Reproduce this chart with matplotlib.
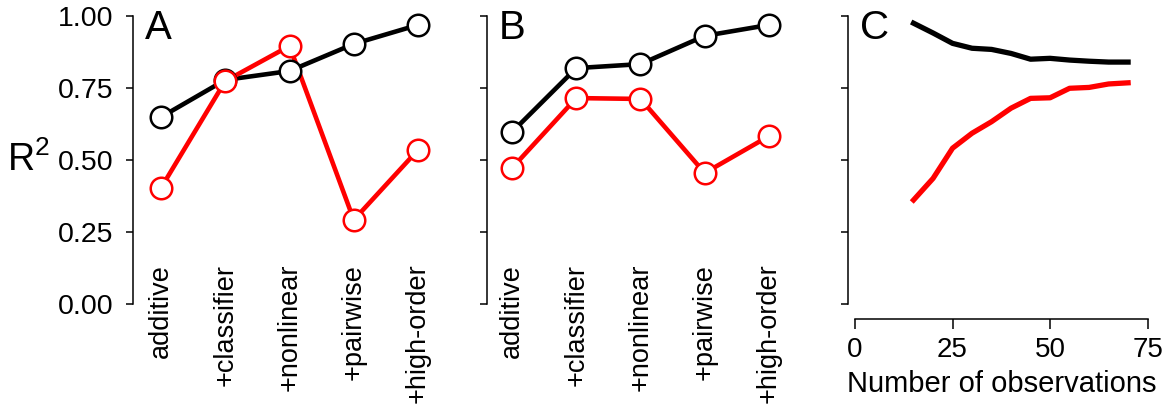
import matplotlib
matplotlib.use("Agg")
import matplotlib.pyplot as plt

plt.rcParams['font.family'] = ['Liberation Sans', 'DejaVu Sans']
plt.rcParams['mathtext.fontset'] = 'custom'
plt.rcParams['mathtext.rm'] = 'Liberation Sans'
plt.rcParams['mathtext.it'] = 'Liberation Sans'

models = ["additive", "+classifier", "+nonlinear", "+pairwise", "+high-order"]
a_black = [0.649, 0.778, 0.809, 0.903, 0.969]
a_red = [0.403, 0.774, 0.896, 0.292, 0.535]
b_black = [0.597, 0.819, 0.833, 0.931, 0.969]
b_red = [0.472, 0.715, 0.712, 0.455, 0.583]
n_obs = [15, 20, 25, 30, 35, 40, 45, 50, 55, 60, 65, 70]
c_black = [0.975, 0.941, 0.905, 0.888, 0.884, 0.870, 0.850, 0.853, 0.847, 0.843, 0.840, 0.840]
c_red = [0.361, 0.436, 0.541, 0.593, 0.633, 0.680, 0.714, 0.716, 0.749, 0.752, 0.764, 0.768]
y_ticks = [0.0, 0.25, 0.5, 0.75, 1.0]

W, H = 1173, 409
fig = plt.figure(figsize=(W / 100, H / 100), dpi=100)


def box(l, r, b=304, t=16):
    return [l / W, (H - b) / H, (r - l) / W, (b - t) / H]


axA = fig.add_axes(box(133, 440))
axB = fig.add_axes(box(487, 790))
axC = fig.add_axes(box(848, 1155))

xs = list(range(1, 6))
for ax, blk, red, xl in [(axA, a_black, a_red, (0.5642, 5.342)),
                         (axB, b_black, b_red, (0.611, 5.327))]:
    ax.plot(xs, blk, color='black', lw=3.3, zorder=2, clip_on=False)
    ax.plot(xs, red, color='red', lw=3.3, zorder=2, clip_on=False)
    ax.plot(xs, blk, 'o', ms=15.5, mfc='white', mec='black', mew=1.8, zorder=3, clip_on=False)
    ax.plot(xs, red, 'o', ms=15.5, mfc='white', mec='red', mew=1.8, zorder=4, clip_on=False)
    ax.set_xlim(*xl)
    ax.set_xticks(xs)
    ax.set_xticklabels(models, rotation=90, fontsize=19.5, va='top', ha='center')
    ax.tick_params(axis='x', length=0, pad=-29)
    ax.spines['bottom'].set_visible(False)

axC.plot(n_obs, c_black, color='black', lw=3.8, clip_on=False)
axC.plot(n_obs, c_red, color='red', lw=3.8, clip_on=False)
axC.set_xlim(-1.8, 76.9)
axC.set_xticks([0, 25, 50, 75])
axC.tick_params(axis='x', labelsize=20, length=7, width=1.1, pad=6)
axC.spines['bottom'].set_position(('outward', 11))
axC.spines['bottom'].set_bounds(0, 75)
axC.set_xlabel("Number of observations", fontsize=21, labelpad=5)

for ax in (axA, axB, axC):
    ax.set_ylim(0, 1)
    ax.set_yticks(y_ticks)
    ax.spines['top'].set_visible(False)
    ax.spines['right'].set_visible(False)
    ax.spines['left'].set_linewidth(1.1)
    ax.spines['bottom'].set_linewidth(1.1)
    ax.tick_params(axis='y', length=5, width=1.1, pad=9)
    ax.set_facecolor('none')

axA.set_yticklabels(["0.00", "0.25", "0.50", "0.75", "1.00"], fontsize=20.5)
axB.set_yticklabels([])
axC.set_yticklabels([])

for ax, letter in [(axA, "A"), (axB, "B"), (axC, "C")]:
    ax.text(12 / 307, 1.025, letter, transform=ax.transAxes, fontsize=29,
            ha='left', va='top')

fig.text(28 / W, (H - 160) / H, r"R$^2$", fontsize=27, ha='center', va='center')

fig.savefig("out.png", dpi=100)
